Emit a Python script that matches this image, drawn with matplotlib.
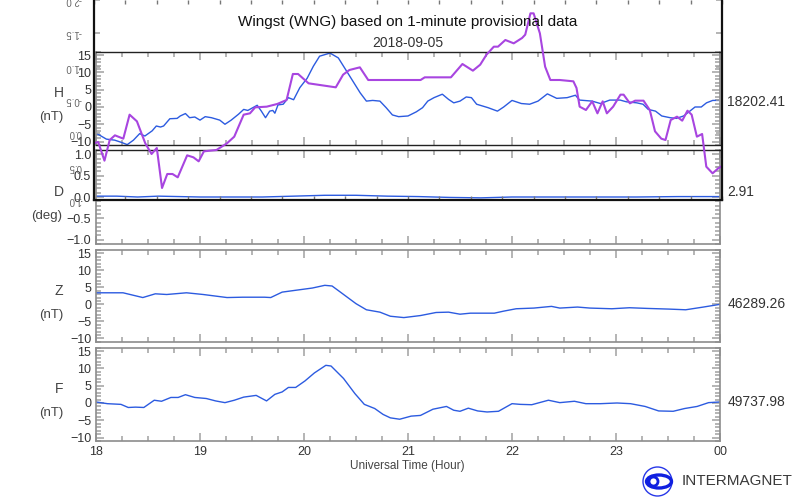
import matplotlib.pyplot as plt
from matplotlib.ticker import MultipleLocator
from matplotlib.patches import Circle, Ellipse

plt.rcParams['font.family'] = ['Liberation Sans', 'DejaVu Sans']

# H, D, Z, F variations (hours UT, nT / deg)
h_t = [18.00, 18.02, 18.10, 18.18, 18.25, 18.30, 18.36, 18.42, 18.47, 18.54, 18.58, 18.62, 18.65, 18.71, 18.78,
       18.81, 18.86, 18.90, 18.95, 19.00, 19.05, 19.11, 19.19, 19.24, 19.30, 19.37, 19.42, 19.46, 19.55, 19.59,
       19.63, 19.67, 19.70, 19.72, 19.75, 19.80, 19.85, 19.90, 19.96, 20.03, 20.09, 20.15, 20.25, 20.33, 20.43,
       20.54, 20.60, 20.66, 20.73, 20.79, 20.85, 20.91, 21.00, 21.08, 21.14, 21.19, 21.25, 21.33, 21.39, 21.44,
       21.50, 21.56, 21.61, 21.66, 21.77, 21.86, 21.92, 22.00, 22.09, 22.17, 22.25, 22.34, 22.43, 22.53, 22.61,
       22.65, 22.77, 22.85, 22.94, 23.04, 23.10, 23.20, 23.26, 23.31, 23.38, 23.44, 23.52, 23.58, 23.65, 23.71,
       23.76, 23.82, 23.87, 23.93, 24.00]
h_v = [-7.6, -7.9, -9.3, -9.6, -10.3, -10.9, -9.6, -7.7, -8.4, -6.9, -5.5, -5.8, -5.5, -3.4, -3.3,
       -2.6, -1.9, -3.1, -2.9, -3.8, -2.8, -3.1, -3.8, -5.0, -3.8, -2.1, -0.7, -1.0, 0.5, -1.2,
       -3.1, -1.2, -1.0, -1.8, 0.6, 0.8, 2.7, 2.1, 5.6, 8.3, 11.8, 14.7, 15.6, 14.2, 9.4,
       4.1, 1.7, 1.9, 1.7, -0.2, -2.3, -2.8, -2.6, -1.4, -0.2, 1.7, 2.7, 3.7, 2.2, 1.2,
       1.7, 2.9, 2.7, 0.8, -0.2, -1.2, 0.0, 1.9, 1.0, 0.8, 1.7, 3.8, 2.5, 2.7, 3.4,
       2.0, 1.7, 1.0, 2.0, 2.0, 1.5, 1.2, 0.8, -0.7, -1.2, -2.6, -3.1, -3.3, -2.6, -1.2,
       0.0, 0.0, 1.2, 1.9, 1.9]

d_t = [18.0, 18.2, 18.4, 18.6, 18.8, 19.0, 19.3, 19.6, 19.9, 20.2, 20.5, 20.8, 21.1, 21.4, 21.7, 22.0,
       22.4, 22.8, 23.2, 23.6, 24.0]
d_v = [0.02, 0.02, 0.0, 0.02, 0.01, 0.0, 0.0, 0.0, 0.02, 0.04, 0.04, 0.02, 0.01, -0.01, -0.02, 0.0,
       0.0, 0.0, 0.0, 0.01, 0.01]

z_t = [18.0, 18.26, 18.45, 18.57, 18.68, 18.87, 19.03, 19.26, 19.41, 19.62, 19.68, 19.79, 19.91, 20.08,
       20.20, 20.27, 20.35, 20.50, 20.60, 20.73, 20.83, 20.96, 21.12, 21.27, 21.39, 21.50, 21.60, 21.83,
       21.92, 22.04, 22.21, 22.38, 22.46, 22.63, 22.75, 22.96, 23.13, 23.30, 23.51, 23.67, 23.84, 24.0]
z_v = [3.4, 3.4, 2.0, 3.1, 2.9, 3.4, 2.9, 2.0, 2.1, 2.1, 2.0, 3.6, 4.1, 4.8,
       5.6, 5.4, 3.6, 0.2, -1.6, -2.3, -3.5, -3.9, -3.3, -2.4, -2.3, -2.9, -2.6, -2.6,
       -2.0, -1.3, -1.1, -0.6, -1.1, -0.8, -1.1, -1.3, -1.0, -1.2, -1.4, -1.6, -0.8, 0.0]

f_t = [18.00, 18.11, 18.24, 18.31, 18.38, 18.46, 18.56, 18.63, 18.72, 18.79, 18.86, 18.95, 19.06, 19.15,
       19.24, 19.33, 19.42, 19.54, 19.64, 19.72, 19.79, 19.85, 19.92, 20.01, 20.10, 20.21, 20.26, 20.38,
       20.49, 20.58, 20.68, 20.76, 20.83, 20.92, 21.03, 21.12, 21.24, 21.37, 21.44, 21.50, 21.58, 21.67,
       21.76, 21.87, 22.00, 22.08, 22.19, 22.35, 22.46, 22.60, 22.71, 22.85, 23.01, 23.14, 23.28, 23.41,
       23.55, 23.66, 23.78, 23.89, 24.00]
f_v = [0.3, -0.2, -0.4, -1.3, -1.2, -1.3, 0.8, 0.5, 1.6, 1.6, 2.4, 1.6, 1.3, 0.6,
       0.1, 0.8, 1.7, 2.2, 0.6, 2.5, 3.2, 4.5, 4.5, 6.4, 8.7, 10.9, 10.7, 7.1,
       2.7, -0.4, -1.6, -3.3, -4.3, -4.7, -3.8, -3.6, -1.8, -1.0, -2.1, -2.4, -1.5, -2.3,
       -2.6, -2.4, -0.2, -0.4, -0.5, 0.8, 0.1, 0.5, -0.2, -0.2, 0.0, -0.2, -1.0, -2.3,
       -2.4, -1.6, -1.0, 0.1, 0.3]

# stray purple trace on a flipped axis over the top of the plot
p_t = [18.00, 18.04, 18.10, 18.15, 18.20, 18.28, 18.34, 18.41, 18.49, 18.55,
       18.60, 18.65, 18.70, 18.75, 18.80, 18.89, 18.95, 19.00, 19.05, 19.17,
       19.27, 19.34, 19.43, 19.49, 19.54, 19.65, 19.75, 19.84, 19.90, 19.95,
       20.05, 20.31, 20.38, 20.44, 20.54, 20.62, 21.12, 21.16, 21.41, 21.52,
       21.62, 21.69, 21.75, 21.82, 21.86, 21.93, 22.01, 22.09, 22.12, 22.17,
       22.20, 22.26, 22.31, 22.36, 22.45, 22.58, 22.61, 22.64, 22.70, 22.76,
       22.81, 22.86, 22.90, 22.96, 23.03, 23.06, 23.12, 23.17, 23.25, 23.31,
       23.36, 23.42, 23.46, 23.51, 23.57, 23.62, 23.67, 23.71, 23.76, 23.81,
       23.85, 23.91, 23.96, 23.99]
p_v = [0.15, 0.13, 0.41, 0.10, 0.03, 0.08, -0.28, -0.18, 0.15, 0.31,
       0.22, 0.82, 0.61, 0.61, 0.66, 0.33, 0.36, 0.42, 0.27, 0.25,
       0.15, 0.05, -0.28, -0.30, -0.39, -0.40, -0.44, -0.50, -0.89, -0.89,
       -0.75, -0.69, -0.88, -0.95, -0.99, -0.80, -0.80, -0.84, -0.84, -1.04,
       -0.94, -1.03, -1.18, -1.30, -1.30, -1.40, -1.35, -1.43, -1.48, -1.80,
       -1.80, -1.50, -1.00, -0.80, -0.80, -0.78, -0.68, -0.40, -0.35, -0.48,
       -0.30, -0.48, -0.30, -0.40, -0.58, -0.58, -0.45, -0.49, -0.49, -0.35,
       -0.03, 0.08, 0.10, -0.20, -0.25, -0.19, -0.34, -0.28, 0.05, 0.01,
       0.50, 0.60, 0.53, 0.50]
p_ticks = [-2.0, -1.5, -1.0, -0.5, 0.0, 0.5, 1.0]

hour_ticks = [18, 19, 20, 21, 22, 23, 24]
hour_labels = ['18', '19', '20', '21', '22', '23', '00']

W, H = 799, 499
fig = plt.figure(figsize=(7.99, 4.99), dpi=100)


def box(top, bottom, left=96, right=720):
    return [left / W, 1 - bottom / H, (right - left) / W, (bottom - top) / H]


blue = '#2c5be0'
grey = '#a0a0a0'
txt = '#333333'

panels = [
    ('H', '(nT)', h_t, h_v, 51.7, 145, (-11, 16), 5, 1, '18202.41', 1.5),
    ('D', '(deg)', d_t, d_v, 150, 244, (-1.1, 1.1), 0.5, 0.1, '2.91', 0.12),
    ('Z', '(nT)', z_t, z_v, 250, 341.7, (-11, 16), 5, 1, '46289.26', 0.0),
    ('F', '(nT)', f_t, f_v, 347.7, 441, (-11, 16), 5, 1, '49737.98', 0.3),
]

for i, (name, unit, t, v, top, bot, ylim, maj, mnr, base, base_y) in enumerate(panels):
    ax = fig.add_axes(box(top, bot))
    ax.plot(t, v, color=blue, lw=1.0)
    ax.set_xlim(18, 24)
    ax.set_ylim(*ylim)
    ax.yaxis.set_major_locator(MultipleLocator(maj))
    ax.yaxis.set_minor_locator(MultipleLocator(mnr))
    ax.set_xticks(hour_ticks)
    ax.xaxis.set_minor_locator(MultipleLocator(0.25))
    ax.tick_params(which='both', direction='in', top=True, right=True, color=grey,
                   width=1.1, labelcolor=txt, labelsize=9)
    ax.tick_params(which='major', length=6)
    ax.tick_params(which='minor', length=3.3)
    if i == 3:
        ax.set_xticklabels(hour_labels)
    else:
        ax.set_xticklabels([])
    for s in ax.spines.values():
        s.set_color('#8c8c8c')
        s.set_linewidth(1.2)
    if i == 0:
        ax.spines['top'].set_color('#222222')
        ax.spines['bottom'].set_color('#222222')
        ax.spines['top'].set_linewidth(1.0)
        ax.spines['bottom'].set_linewidth(1.0)
    if i == 1:
        ax.spines['top'].set_color('#222222')
        ax.spines['top'].set_linewidth(1.0)
    ax.text(1.012, base_y, base, transform=ax.get_yaxis_transform(), ha='left', va='center',
            fontsize=10, color=txt)
    mid = (top + bot) / 2
    fig.text(59 / W, 1 - (mid - 5) / H, name, ha='center', va='center', fontsize=10, color='#444444')
    ux = 47 if unit == '(deg)' else 51
    fig.text(ux / W, 1 - (mid + 19) / H, unit, ha='center', va='center', fontsize=9.5, color='#444444')

# overlay axis with the purple trace
ov = fig.add_axes(box(0, 200, 94, 722))
ov.patch.set_alpha(0)
ov.plot(p_t, p_v, color='#a845e0', lw=1.5)
ov.set_xlim(18, 24)
ov.set_ylim(1.0, -2.0)
ov.set_yticks(p_ticks)
ov.set_yticklabels([])
ov.xaxis.set_major_locator(MultipleLocator(0.6))
ov.xaxis.set_minor_locator(MultipleLocator(0.3))
ov.set_xticklabels([])
ov.tick_params(axis='y', direction='in', left=True, right=True, color=grey, length=4, width=1.1)
ov.tick_params(axis='x', which='both', direction='in', top=True, bottom=True, color='#777777',
               length=3, width=1.0)
ov.spines['top'].set_visible(False)
for s in ['left', 'right', 'bottom']:
    ov.spines[s].set_color('#111111')
    ov.spines[s].set_linewidth(1.6)
for v in p_ticks:
    ov.text(-0.02, v, '%.1f' % v if v != 0 else '0.0', transform=ov.get_yaxis_transform(),
            rotation=180, ha='right', va='center', fontsize=7, color='#666666', clip_on=False)

fig.text(408 / W, 1 - 22 / H, 'Wingst (WNG) based on 1-minute provisional data', ha='center',
         va='center', fontsize=11, color='#111111')
fig.text(408 / W, 1 - 43 / H, '2018-09-05', ha='center', va='center', fontsize=10, color=txt)
fig.text(407 / W, 1 - 466 / H, 'Universal Time (Hour)', ha='center', va='center', fontsize=8.5,
         color='#444444')

# INTERMAGNET logo
lg = fig.add_axes([0, 0, 1, 1], zorder=-1)
lg.set_xlim(0, W)
lg.set_ylim(H, 0)
lg.axis('off')
lg.add_patch(Circle((657.5, 481.5), 14.5, fill=False, ec='#2838e8', lw=1.0))
lg.add_patch(Ellipse((659, 481.5), 25, 13, fill=False, ec='#1020e0', lw=2.4))
lg.add_patch(Ellipse((653.5, 481.5), 9, 9, fill=False, ec='#1020e0', lw=2.0))
fig.text(682 / W, 1 - 481 / H, 'INTERMAGNET', ha='left', va='center', fontsize=11, color='#3a3a3a')

fig.savefig('out.png', dpi=100)
